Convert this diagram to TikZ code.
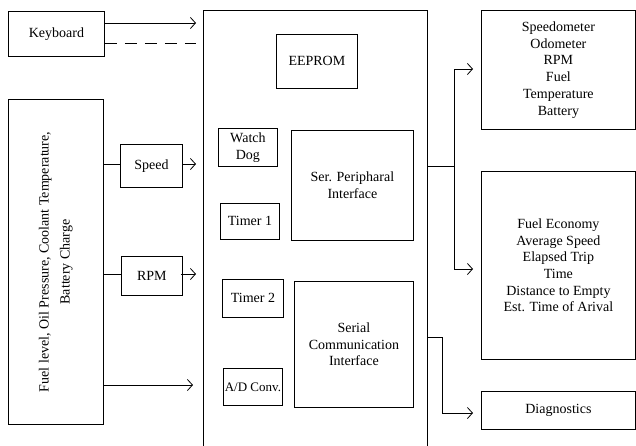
\documentclass[tikz,border=0pt]{standalone}
\usepackage{fontspec}
\setmainfont{Liberation Serif}
\usetikzlibrary{arrows.meta}
\begin{document}
\begin{tikzpicture}[x=1pt,y=-1pt,
  box/.style={draw, line width=0.8pt, anchor=north west, inner sep=0pt, align=center,
    font=\fontsize{14}{16.7}\selectfont},
  txt/.style={inner sep=0pt, align=center, font=\fontsize{14}{16.7}\selectfont},
  conn/.style={line width=0.8pt},
  arr/.style={line width=0.8pt, -{Straight Barb[length=5pt,width=11pt,line width=0.8pt]}},
  dsh/.style={line width=0.8pt, dash pattern=on 12pt off 8pt}]
\useasboundingbox (0,0) rectangle (636,445);
% left side
\node[box, minimum width=96, minimum height=45] (kb) at (8,11) {Keyboard};
\node[box, minimum width=95, minimum height=325] (sens) at (8,99) {};
\node[txt, rotate=90, font=\fontsize{14}{21}\selectfont] (senstxt) at (sens.center) {Fuel level, Oil Pressure, Coolant Temperature,\\Battery Charge};
\node[box, minimum width=62, minimum height=43] (speed) at (120,144) {Speed};
\node[box, minimum width=61, minimum height=39] (rpm) at (121,256) {RPM};
% main controller
\node[box, minimum width=224, minimum height=460] (mcu) at (203,10) {};
\node[box, minimum width=81, minimum height=54] (eeprom) at (276,34) {EEPROM};
\node[box, minimum width=59, minimum height=38] (wd) at (218,128) {Watch\\Dog};
\node[box, minimum width=122, minimum height=110] (spi) at (291,130) {Ser. Peripharal\\Interface};
\node[box, minimum width=59, minimum height=36] (t1) at (220,203) {Timer 1};
\node[box, minimum width=61, minimum height=38] (t2) at (222,279) {Timer 2};
\node[box, minimum width=119, minimum height=126] (sci) at (294,281) {Serial\\Communication\\Interface};
\node[box, minimum width=59, minimum height=37, font=\fontsize{13}{16}\selectfont] (adc) at (223,368) {A/D Conv.};
% outputs
\node[box, minimum width=154, minimum height=119] (disp) at (481,10) {Speedometer\\Odometer\\RPM\\Fuel\\Temperature\\Battery};
\node[box, minimum width=154, minimum height=188] (trip) at (481,171) {Fuel Economy\\Average Speed\\Elapsed Trip\\Time\\Distance to Empty\\Est. Time of Arival};
\node[box, minimum width=154, minimum height=38] (diag) at (481,391) {Diagnostics};
% coordinates
\coordinate (kbin1) at (196,23);
\coordinate (kbin2) at (196,43);
\coordinate (spin) at (196,164);
\coordinate (rpmin) at (196,274);
\coordinate (anin) at (193,385);
\coordinate (j1) at (454,166);
\coordinate (o1) at (473,69);
\coordinate (o2) at (473,269);
\coordinate (j2) at (442,337);
\coordinate (o3) at (473,413);
% connectors
\draw[arr] (kb.east |- kbin1) -- (kbin1);
\draw[dsh] (kb.east |- kbin2) -- (kbin2);
\draw[conn] (sens.east |- spin) -- (speed.west |- spin);
\draw[arr] (speed.east |- spin) -- (spin);
\draw[conn] (sens.east |- rpmin) -- (rpm.west |- rpmin);
\draw[arr] ([xshift=-2pt]rpm.east |- rpmin) -- (rpmin);
\draw[arr] (sens.east |- anin) -- (anin);
\draw[conn] (mcu.east |- j1) -- (j1);
\draw[arr] (j1) |- (o1);
\draw[arr] (j1) |- (o2);
\draw[arr] (mcu.east |- j2) -- (j2) |- (o3);
\end{tikzpicture}
\end{document}
